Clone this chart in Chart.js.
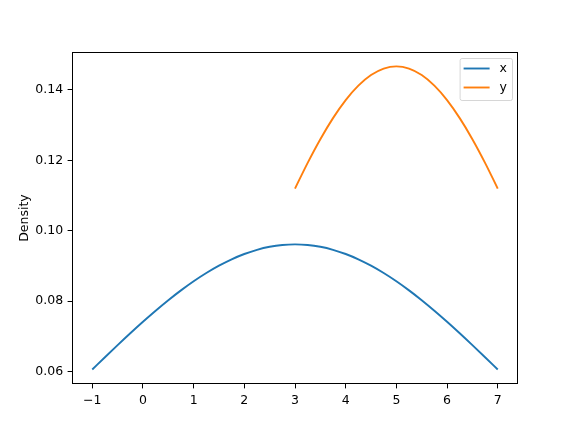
<!DOCTYPE html>
<html>
<head>
<meta charset="utf-8">
<script src="https://cdn.jsdelivr.net/npm/chart.js@4.4.0/dist/chart.umd.min.js"></script>
<style>
    html, body { margin: 0; padding: 0; background: #fff; }
    #wrap { width: 576px; height: 432px; }
</style>
</head>
<body>
<div id="wrap"><canvas id="kde" width="576" height="432"></canvas></div>
<script>
// density curves (every 0.25)
var xGrid = [-1, -0.75, -0.5, -0.25, 0, 0.25, 0.5, 0.75, 1, 1.25, 1.5, 1.75, 2, 2.25, 2.5, 2.75, 3,
    3.25, 3.5, 3.75, 4, 4.25, 4.5, 4.75, 5, 5.25, 5.5, 5.75, 6, 6.25, 6.5, 6.75, 7];
var xDensity = [0.06052, 0.06401, 0.06745, 0.07082, 0.07409, 0.07723, 0.08022, 0.08302,
    0.08561, 0.08796, 0.09005, 0.09186, 0.09336, 0.09455, 0.09541, 0.09593, 0.09610,
    0.09593, 0.09541, 0.09455, 0.09336, 0.09186, 0.09005, 0.08796, 0.08561,
    0.08302, 0.08022, 0.07723, 0.07409, 0.07082, 0.06745, 0.06401, 0.06052];
var yGrid = [3, 3.25, 3.5, 3.75, 4, 4.25, 4.5, 4.75, 5, 5.25, 5.5, 5.75, 6, 6.25, 6.5, 6.75, 7];
var yDensity = [0.11196, 0.11928, 0.12601, 0.13200, 0.13712, 0.14123, 0.14424, 0.14608, 0.14670,
    0.14608, 0.14424, 0.14123, 0.13712, 0.13200, 0.12601, 0.11928, 0.11196];
var seriesNames = ['x', 'y'];
var seriesColors = ['#1f77b4', '#ff7f0e'];
var xTicks = [-1, 0, 1, 2, 3, 4, 5, 6, 7];
var yTicks = [0.06, 0.08, 0.10, 0.12, 0.14];
var yTitle = 'Density';

(function () {
    var FONT = 'DejaVu Sans';
    var FS = 12.5;

    function toPoints(xs, ys) {
        return xs.map(function (v, i) { return { x: v, y: ys[i] }; });
    }

    function axisFrame(chart) {
        var a = chart.chartArea, ctx = chart.ctx;
        ctx.save();
        ctx.strokeStyle = '#000';
        ctx.lineWidth = 1;
        ctx.strokeRect(Math.round(a.left) + 0.5, Math.round(a.top) + 0.5,
            Math.round(a.right - a.left) - 1, Math.round(a.bottom - a.top) - 1);
        ctx.restore();
    }

    // matplotlib-style legend box in the upper right corner
    function drawLegend(chart) {
        var a = chart.chartArea, ctx = chart.ctx;
        var sets = chart.data.datasets;
        ctx.save();
        ctx.font = FS + 'px "' + FONT + '"';
        var maxW = 0;
        sets.forEach(function (d) { maxW = Math.max(maxW, ctx.measureText(d.label).width); });
        var pad = 4, handle = 26, gap = 10, rowH = 19;
        var w = pad + handle + gap + maxW + pad + 1;
        var h = 10.5 + rowH * (sets.length - 1) + 12.5;
        var x0 = a.right - 6 - w, y0 = a.top + 6;
        ctx.beginPath();
        ctx.roundRect(x0 + 0.5, y0 + 0.5, w, h, 2);
        ctx.fillStyle = 'rgba(255,255,255,0.8)';
        ctx.fill();
        ctx.strokeStyle = 'rgba(204,204,204,0.8)';
        ctx.lineWidth = 1;
        ctx.stroke();
        sets.forEach(function (d, i) {
            var cy = y0 + 10.5 + i * rowH;
            ctx.beginPath();
            ctx.moveTo(x0 + pad, cy);
            ctx.lineTo(x0 + pad + handle, cy);
            ctx.strokeStyle = d.borderColor;
            ctx.lineWidth = 1.9;
            ctx.stroke();
            ctx.fillStyle = '#000';
            ctx.textBaseline = 'middle';
            ctx.textAlign = 'left';
            ctx.fillText(d.label, x0 + pad + handle + gap, cy);
        });
        ctx.restore();
    }

    var framePlugin = {
        id: 'frame',
        afterDatasetsDraw: function (chart) {
            axisFrame(chart);
            drawLegend(chart);
        }
    };

    function lineSet(i, xs, ys) {
        return {
            label: seriesNames[i],
            data: toPoints(xs, ys),
            borderColor: seriesColors[i],
            backgroundColor: seriesColors[i],
            borderWidth: 1.9,
            pointRadius: 0,
            fill: false,
            cubicInterpolationMode: 'monotone'
        };
    }

    var tickFont = { family: FONT, size: FS };

    new Chart(document.getElementById('kde').getContext('2d'), {
        type: 'line',
        data: {
            datasets: [lineSet(0, xGrid, xDensity), lineSet(1, yGrid, yDensity)]
        },
        options: {
            responsive: false,
            animation: false,
            events: [],
            layout: { padding: { left: 0, top: 52, right: 58, bottom: 0 } },
            plugins: { legend: { display: false }, tooltip: { enabled: false } },
            scales: {
                x: {
                    type: 'linear',
                    min: -1.4,
                    max: 7.4,
                    afterBuildTicks: function (s) { s.ticks = xTicks.map(function (v) { return { value: v }; }); },
                    afterFit: function (s) { s.height = 48; },
                    grid: { drawOnChartArea: false, drawTicks: true, tickLength: 4.4, color: '#000', lineWidth: 1 },
                    border: { display: false },
                    ticks: {
                        autoSkip: false, maxRotation: 0, padding: 4.4, color: '#000', font: tickFont,
                        callback: function (v) { return String(v).replace('-', '\u2212'); }
                    }
                },
                y: {
                    type: 'linear',
                    min: 0.0564,
                    max: 0.1508,
                    afterBuildTicks: function (s) { s.ticks = yTicks.map(function (v) { return { value: v }; }); },
                    afterFit: function (s) { s.width = 72; },
                    grid: { drawOnChartArea: false, drawTicks: true, tickLength: 4.4, color: '#000', lineWidth: 1 },
                    border: { display: false },
                    ticks: {
                        autoSkip: false, padding: 4.4, color: '#000', font: tickFont,
                        callback: function (v) { return v.toFixed(2); }
                    },
                    title: {
                        display: true, text: yTitle, color: '#000', font: tickFont,
                        padding: { top: 17, bottom: 0 }
                    }
                }
            }
        },
        plugins: [framePlugin]
    });
})();
</script>
</body>
</html>
